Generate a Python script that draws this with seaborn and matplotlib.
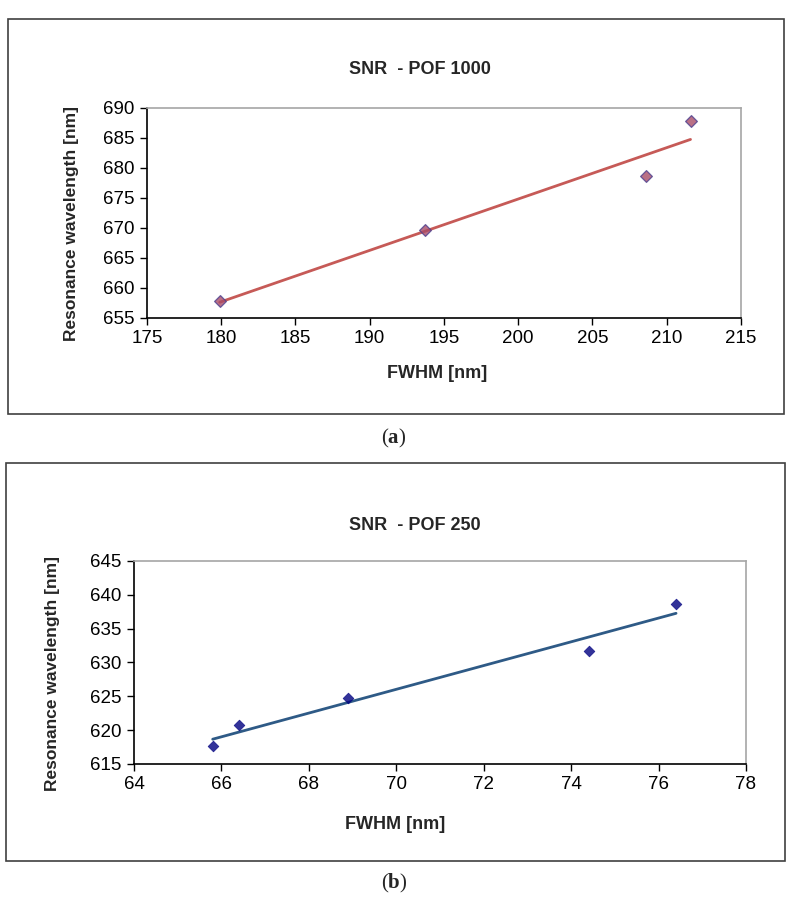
import matplotlib
matplotlib.use("Agg")
import matplotlib.pyplot as plt
import seaborn as sns
from matplotlib.patches import Rectangle

# Panel (a) - POF 1000
fwhm_1000 = [179.9, 193.7, 208.6, 211.6]
res_1000 = [657.8, 669.7, 678.7, 687.8]
xticks_1000 = [175, 180, 185, 190, 195, 200, 205, 210, 215]
yticks_1000 = [655, 660, 665, 670, 675, 680, 685, 690]

# Panel (b) - POF 250
fwhm_250 = [65.8, 66.4, 68.9, 74.4, 76.4]
res_250 = [617.7, 620.7, 624.7, 631.7, 638.7]
xticks_250 = [64, 66, 68, 70, 72, 74, 76, 78]
yticks_250 = [615, 620, 625, 630, 635, 640, 645]

sns.set_style("white")
plt.rcParams['font.family'] = ['Liberation Sans Narrow', 'Liberation Sans', 'DejaVu Sans']
plt.rcParams['mathtext.fontset'] = 'custom'
plt.rcParams['mathtext.bf'] = 'Liberation Serif:bold'
plt.rcParams['mathtext.rm'] = 'Liberation Serif'

fig = plt.figure(figsize=(7.91, 9.02), dpi=100)

# outer boxes around each chart
for rect in [(0.0101, 0.541, 0.981, 0.438), (0.0076, 0.0455, 0.985, 0.441)]:
    fig.patches.append(Rectangle(rect[:2], rect[2], rect[3], transform=fig.transFigure,
                                 fill=False, edgecolor='#404040', linewidth=1.2))

ax1 = fig.add_axes([0.1858, 0.6475, 0.751, 0.2328])
ax2 = fig.add_axes([0.1694, 0.1530, 0.7737, 0.2251])

sns.regplot(x=fwhm_1000, y=res_1000, ax=ax1, ci=None, marker='D',
            scatter_kws=dict(s=36, color='#a84c68', edgecolors='#4b3f8f', linewidths=0.9, zorder=3),
            line_kws=dict(color='#c65a57', linewidth=2.0, zorder=2))
sns.regplot(x=fwhm_250, y=res_250, ax=ax2, ci=None, marker='D',
            scatter_kws=dict(s=30, color='#000080', edgecolors='#000080', linewidths=0.5, zorder=3),
            line_kws=dict(color='#2e5a86', linewidth=2.0, zorder=2))

for ax, xt, yt in [(ax1, xticks_1000, yticks_1000), (ax2, xticks_250, yticks_250)]:
    ax.set_xlim(xt[0], xt[-1])
    ax.set_ylim(yt[0], yt[-1])
    ax.set_xticks(xt)
    ax.set_yticks(yt)
    ax.tick_params(direction='out', length=5, width=1, labelsize=13.5, pad=4,
                   bottom=True, left=True, colors='black')
    for s in ['left', 'bottom']:
        ax.spines[s].set_color('black')
        ax.spines[s].set_linewidth(1.2)
    for s in ['top', 'right']:
        ax.spines[s].set_color('#a6a6a6')
        ax.spines[s].set_linewidth(1.2)
    ax.set_xlabel('')
    ax.set_ylabel('')

# titles and axis labels
fig.text(0.531, 0.9224, 'SNR  - POF 1000', ha='center', va='center', fontsize=13, fontweight='bold')
fig.text(0.525, 0.4169, 'SNR  - POF 250', ha='center', va='center', fontsize=13, fontweight='bold')
fig.text(0.552, 0.5854, 'FWHM [nm]', ha='center', va='center', fontsize=13, fontweight='bold')
fig.text(0.499, 0.0854, 'FWHM [nm]', ha='center', va='center', fontsize=13, fontweight='bold')
fig.text(0.0898, 0.7517, 'Resonance wavelength [nm]', ha='center', va='center', rotation=90,
         fontsize=12.5, fontweight='bold', family=['Liberation Sans', 'DejaVu Sans'])
fig.text(0.067, 0.2538, 'Resonance wavelength [nm]', ha='center', va='center', rotation=90,
         fontsize=12.5, fontweight='bold', family=['Liberation Sans', 'DejaVu Sans'])

# panel captions
fig.text(0.498, 0.514, r'($\mathbf{a}$)', ha='center', va='center', fontsize=15,
         family=['Liberation Serif', 'DejaVu Serif'])
fig.text(0.498, 0.021, r'($\mathbf{b}$)', ha='center', va='center', fontsize=15,
         family=['Liberation Serif', 'DejaVu Serif'])

fig.savefig('out.png', dpi=100)
